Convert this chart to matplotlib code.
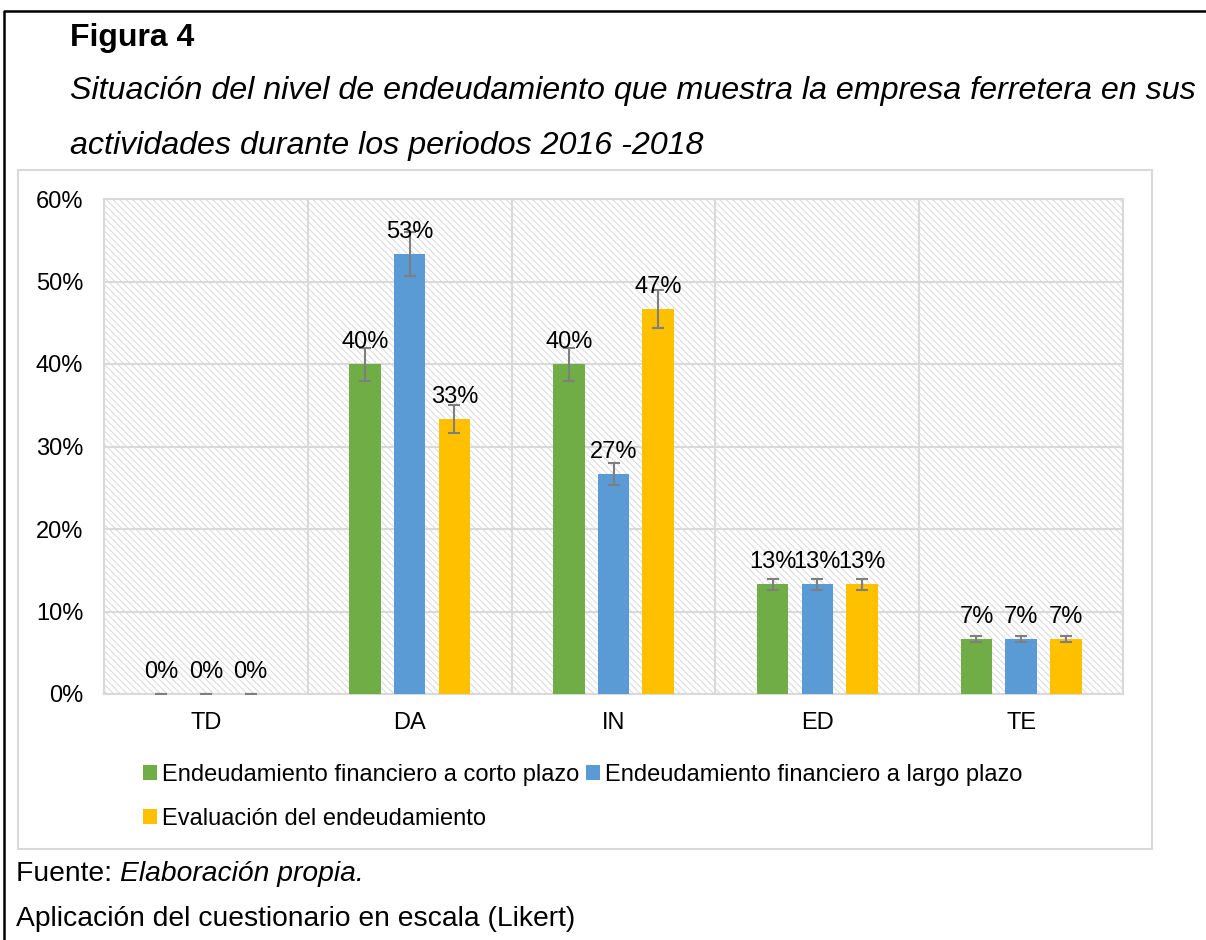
import matplotlib
matplotlib.use("Agg")
import matplotlib.pyplot as plt
import numpy as np
from matplotlib.patches import Rectangle
from matplotlib.lines import Line2D

categories = ["TD", "DA", "IN", "ED", "TE"]
series_names = ["Endeudamiento financiero a corto plazo",
                "Endeudamiento financiero a largo plazo",
                "Evaluación del endeudamiento"]
corto = [0.0, 40.0, 40.0, 13.33, 6.67]
largo = [0.0, 53.33, 26.67, 13.33, 6.67]
evaluacion = [0.0, 33.33, 46.67, 13.33, 6.67]
yticks = [0, 10, 20, 30, 40, 50, 60]
colors = ["#70ad47", "#5b9bd5", "#ffc000"]

plt.rcParams['font.family'] = ['Liberation Sans', 'DejaVu Sans']
plt.rcParams['hatch.linewidth'] = 0.7
plt.rcParams['hatch.color'] = '#d9d9d9'

W, H = 1206, 940
fig = plt.figure(figsize=(W / 100, H / 100), dpi=100)

def fx(x):
    return x / W

def fy(y):
    return 1 - y / H

# outer black border (top & left)
fig.add_artist(Line2D([fx(4), fx(4), fx(1206)], [fy(940), fy(11), fy(11)],
                      transform=fig.transFigure, color="black", lw=1.8))
# chart frame
fig.add_artist(Rectangle((fx(18), fy(849)), fx(1152) - fx(18), fy(170) - fy(849),
                         transform=fig.transFigure, fill=False,
                         edgecolor="#d9d9d9", lw=1.5))

# titles
fig.text(fx(70), fy(46), "Figura 4", fontsize=23, fontweight="bold",
         ha="left", va="baseline")
fig.text(fx(70), fy(99),
         "Situación del nivel de endeudamiento que muestra la empresa ferretera en sus",
         fontsize=23.25, fontstyle="italic", ha="left", va="baseline")
fig.text(fx(70), fy(154), "actividades durante los periodos 2016 -2018",
         fontsize=23.25, fontstyle="italic", ha="left", va="baseline")

# footer
t1 = fig.text(fx(16), fy(881), "Fuente: ", fontsize=20.3, ha="left", va="baseline")
fig.canvas.draw()
bb = t1.get_window_extent()
fig.text(bb.x1 / W, fy(881), "Elaboración propia.", fontsize=20.3,
         fontstyle="italic", ha="left", va="baseline")
fig.text(fx(16), fy(926), "Aplicación del cuestionario en escala (Likert)",
         fontsize=20.3, ha="left", va="baseline")

# axes
left, right, top, bottom = 104, 1123, 199, 694
ax = fig.add_axes([fx(left), fy(bottom), fx(right) - fx(left), fy(top) - fy(bottom)])
ax.set_xlim(-0.5, len(categories) - 0.5)
ax.set_ylim(0, 60)

ax.add_patch(Rectangle((0, 0), 1, 1, transform=ax.transAxes, facecolor="white",
                       edgecolor="#d9d9d9", hatch="\\\\\\\\\\", lw=0, zorder=0))

x = np.arange(len(categories))
width = 0.155
offsets = [-0.219, 0.0, 0.219]
all_series = [corto, largo, evaluacion]
handles = []
for i, (vals, col, name) in enumerate(zip(all_series, colors, series_names)):
    vals = np.array(vals)
    xs = x + offsets[i]
    b = ax.bar(xs, vals, width=width, color=col, label=name, zorder=3)
    handles.append(b)
    ax.errorbar(xs, vals, yerr=vals * 0.05, fmt="none", ecolor="#7f7f7f",
                elinewidth=1.5, capsize=4.5, capthick=1.5, zorder=4)
    for xi, v in zip(xs, vals):
        ax.annotate(f"{v:.0f}%", (xi, v), xytext=(0, 11.5), textcoords="offset points",
                    ha="center", va="baseline", fontsize=17, color="#000000", zorder=5)

ax.set_yticks(yticks)
ax.set_yticklabels([f"{t}%" for t in yticks], fontsize=17)
ax.set_xticks(x)
ax.set_xticklabels(categories, fontsize=17)
ax.set_xticks(np.arange(-0.5, len(categories)), minor=True)
ax.tick_params(axis="both", which="both", length=0)
ax.tick_params(axis="y", pad=15)
ax.tick_params(axis="x", pad=13)
ax.grid(axis="y", which="major", color="#d9d9d9", lw=1.5, zorder=1)
ax.grid(axis="x", which="minor", color="#d9d9d9", lw=1.5, zorder=1)
ax.grid(axis="x", which="major", visible=False)
ax.set_axisbelow(True)
for s in ax.spines.values():
    s.set_color("#d9d9d9")
    s.set_linewidth(1.5)

order = [0, 2, 1]
leg = fig.legend([handles[k] for k in order], [series_names[k] for k in order],
                 loc="upper left", bbox_to_anchor=(fx(143), fy(764)), ncol=2,
                 frameon=False, fontsize=17, handlelength=0.6, handleheight=0.6,
                 handletextpad=0.2, columnspacing=0.3, labelspacing=0.92,
                 borderpad=0, borderaxespad=0)

fig.savefig("out.png", dpi=100)
